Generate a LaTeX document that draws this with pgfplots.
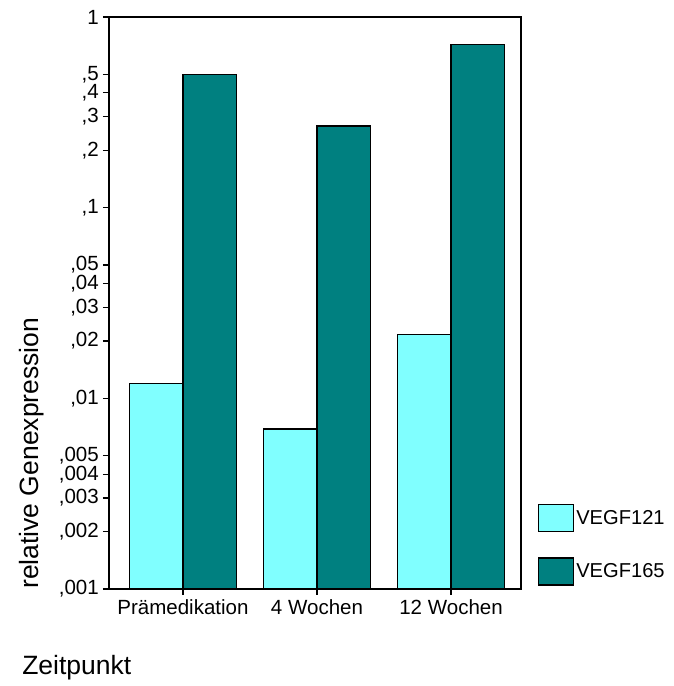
\documentclass[border=0pt]{standalone}
\usepackage{fontspec}
\setmainfont{Liberation Sans}
\usepackage{pgfplots}
\pgfplotsset{compat=1.18}
\definecolor{lcyan}{RGB}{128,255,255}
\definecolor{dteal}{RGB}{0,128,128}
\begin{document}
\begin{tikzpicture}
\begin{axis}[
  at={(0,0)}, anchor=south west,
  scale only axis, width=412bp, height=572bp,
  clip=false,
  ymode=log, ymin=0.001, ymax=1,
  log origin y=infty,
  xmin=-0.552, xmax=2.522,
  ybar,
  axis line style={line width=1.2bp},
  ytick={1,0.5,0.4,0.3,0.2,0.1,0.05,0.04,0.03,0.02,0.01,0.005,0.004,0.003,0.002,0.001},
  yticklabels={1,{,5},{,4},{,3},{,2},{,1},{,05},{,04},{,03},{,02},{,01},{,005},{,004},{,003},{,002},{,001}},
  minor ytick={},
  yminorticks=false,
  xtick={0,1,2},
  xticklabels={Prämedikation,4 Wochen,12 Wochen},
  tick align=outside, major tick length=6bp,
  ytick pos=left, xtick pos=bottom,
  tick style={line width=1.2bp, black},
  ticklabel style={font=\fontsize{20.6pt}{23pt}\selectfont},
  yticklabel style={inner sep=4bp},
  xticklabel style={inner sep=4.5bp},
  legend style={at={(rel axis cs:1.041,0.1486)}, anchor=north west, draw=none, fill=none,
    font=\fontsize{20.2pt}{23pt}\selectfont, row sep=25bp, inner sep=0pt},
  legend cell align=left,
]
\addplot[fill=lcyan, draw=black, line width=1.2bp, bar width=53.6bp, bar shift=-26.8bp,
  legend image code/.code={\draw[fill=lcyan, draw=black, line width=1.2bp] (0bp,-13.5bp) rectangle (35bp,13.5bp);}]
  coordinates {(0,0.012) (1,0.0069) (2,0.0217)};
\addlegendentry{VEGF121}
\addplot[fill=dteal, draw=black, line width=1.2bp, bar width=53.6bp, bar shift=26.8bp,
  legend image code/.code={\draw[fill=dteal, draw=black, line width=1.2bp] (0bp,-13.5bp) rectangle (35bp,13.5bp);}]
  coordinates {(0,0.5) (1,0.268) (2,0.72)};
\addlegendentry{VEGF165}
\node[rotate=90, anchor=base west, inner sep=0pt, font=\fontsize{26.6pt}{30pt}\selectfont] at (rel axis cs:-0.170,0) {relative Genexpression};
\node[anchor=base west, inner sep=0pt, font=\fontsize{26.6pt}{30pt}\selectfont] at (rel axis cs:-0.211,-0.149) {Zeitpunkt};
\end{axis}
\useasboundingbox (-109bp,-97bp) rectangle (565bp,589bp);
\end{tikzpicture}
\end{document}
